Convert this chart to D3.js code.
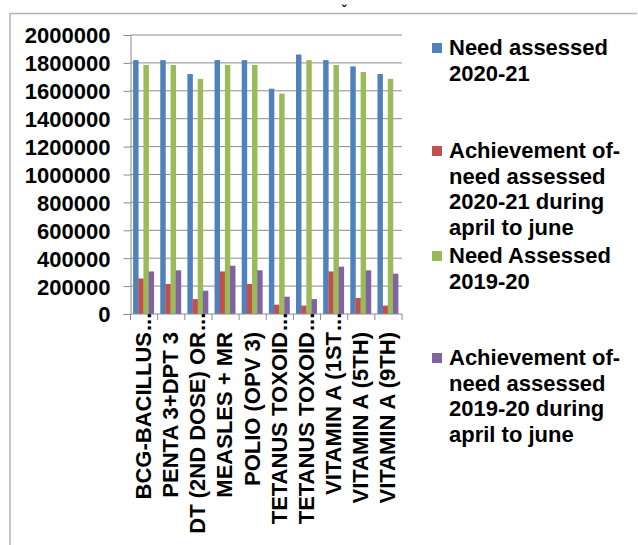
<!DOCTYPE html>
<html>
<head>
<meta charset="utf-8">
<script src="https://cdn.jsdelivr.net/npm/d3@7"></script>
<style>
  body { margin: 0; background: #fff; }
  text { font-family: "Liberation Sans", Arial, sans-serif; font-weight: bold; fill: #000; }
</style>
</head>
<body>
<svg width="638" height="545"></svg>
<script>
const categories = ["BCG-BACILLUS", "PENTA 3+DPT 3", "DT (2ND DOSE) OR", "MEASLES + MR", "POLIO (OPV 3)",
    "TETANUS TOXOID", "TETANUS TOXOID", "VITAMIN A (1ST", "VITAMIN A (5TH)", "VITAMIN A (9TH)"];
const truncated = [true, false, true, false, false, true, true, true, false, false];

const seriesNames = [
    ["Need assessed", "2020-21"],
    ["Achievement of-", "need assessed", "2020-21 during", "april to june"],
    ["Need Assessed", "2019-20"],
    ["Achievement of-", "need assessed", "2019-20 during", "april to june"]
];
const colors = ["#4F81BD", "#C0504D", "#9BBB59", "#8064A2"];

const need2021 = [1820000, 1820000, 1720000, 1820000, 1820000, 1615000, 1860000, 1820000, 1775000, 1720000];
const ach2021 = [255000, 215000, 107000, 305000, 215000, 67000, 60000, 305000, 115000, 60000];
const need1920 = [1785000, 1785000, 1685000, 1785000, 1785000, 1580000, 1820000, 1785000, 1735000, 1685000];
const ach1920 = [305000, 313000, 167000, 346000, 313000, 124000, 107000, 339000, 313000, 289000];
const series = [need2021, ach2021, need1920, ach1920];

const yTicks = [0, 200000, 400000, 600000, 800000, 1000000, 1200000, 1400000, 1600000, 1800000, 2000000];

const svg = d3.select("svg");

// outer frame (top and left edges visible)
svg.append("path")
    .attr("d", "M10,545 V13.5 H637")
    .attr("fill", "none")
    .attr("stroke", "#b4b4b4")
    .attr("stroke-width", 1.5);
svg.append("text").attr("x", 344).attr("y", 16).attr("text-anchor", "middle")
    .attr("font-size", 14).text("ˇ");

const plotLeft = 130.5, plotRight = 402, plotTop = 35, plotBottom = 314;

const x0 = d3.scaleBand().domain(d3.range(categories.length)).range([plotLeft, plotRight]).padding(0);
const bw = x0.bandwidth();
const x1 = d3.scaleBand().domain(d3.range(series.length)).range([bw * 0.096, bw * 0.856]).padding(0);
const y = d3.scaleLinear().domain([0, 2000000]).range([plotBottom, plotTop]);

// gridlines
svg.append("g").selectAll("line").data(yTicks.slice(1)).join("line")
    .attr("x1", plotLeft).attr("x2", plotRight)
    .attr("y1", d => y(d)).attr("y2", d => y(d))
    .attr("stroke", "#8c8c8c").attr("stroke-width", 1);

// y axis
const yAxis = svg.append("g")
    .attr("transform", `translate(${plotLeft},0)`)
    .call(d3.axisLeft(y).tickValues(yTicks).tickFormat(d3.format("d")).tickSize(7).tickPadding(13));
yAxis.select(".domain").attr("stroke", "#8c8c8c");
yAxis.selectAll(".tick line").attr("stroke", "#8c8c8c");
yAxis.selectAll(".tick text").attr("font-size", 22).attr("font-family", "Liberation Sans, Arial, sans-serif")
    .attr("font-weight", "bold").attr("fill", "#000").attr("dy", "0.36em");

// bars
const groups = svg.append("g").selectAll("g").data(categories).join("g")
    .attr("transform", (d, i) => `translate(${x0(i)},0)`);
groups.selectAll("rect").data((d, i) => series.map((s, k) => ({k, v: s[i]}))).join("rect")
    .attr("x", d => x1(d.k))
    .attr("width", x1.bandwidth() + 0.3)
    .attr("y", d => y(d.v))
    .attr("height", d => y(0) - y(d.v))
    .attr("fill", d => colors[d.k]);

// x axis line and ticks between categories
svg.append("line").attr("x1", plotLeft).attr("x2", plotRight).attr("y1", plotBottom).attr("y2", plotBottom)
    .attr("stroke", "#8c8c8c");
svg.append("g").selectAll("line").data(d3.range(categories.length + 1)).join("line")
    .attr("x1", i => plotLeft + i * bw).attr("x2", i => plotLeft + i * bw)
    .attr("y1", plotBottom).attr("y2", plotBottom + 6)
    .attr("stroke", "#8c8c8c");

// category labels
const labels = svg.append("g").selectAll("g").data(categories).join("g")
    .attr("transform", (d, i) => `translate(${x0(i) + bw / 2 - 1},332) rotate(-90)`);
labels.append("text")
    .attr("text-anchor", "end").attr("dy", "0.36em").attr("font-size", 22)
    .text(d => d);
labels.filter((d, i) => truncated[i]).append("text")
    .attr("x", 1).attr("text-anchor", "start").attr("dy", "0.36em").attr("font-size", 22)
    .text("...");

// legend
const legendY = [55, 158, 263, 365];
const legend = svg.append("g").selectAll("g").data(seriesNames).join("g")
    .attr("transform", (d, i) => `translate(432,${legendY[i]})`);
legend.append("rect").attr("x", 0).attr("y", -12).attr("width", 10).attr("height", 10)
    .attr("fill", (d, i) => colors[i]);
legend.append("text").attr("x", 17).attr("font-size", 22)
    .selectAll("tspan").data(d => d).join("tspan")
    .attr("x", 17).attr("dy", (d, j) => j === 0 ? 0 : 25.5)
    .text(d => d);
</script>
</body>
</html>
